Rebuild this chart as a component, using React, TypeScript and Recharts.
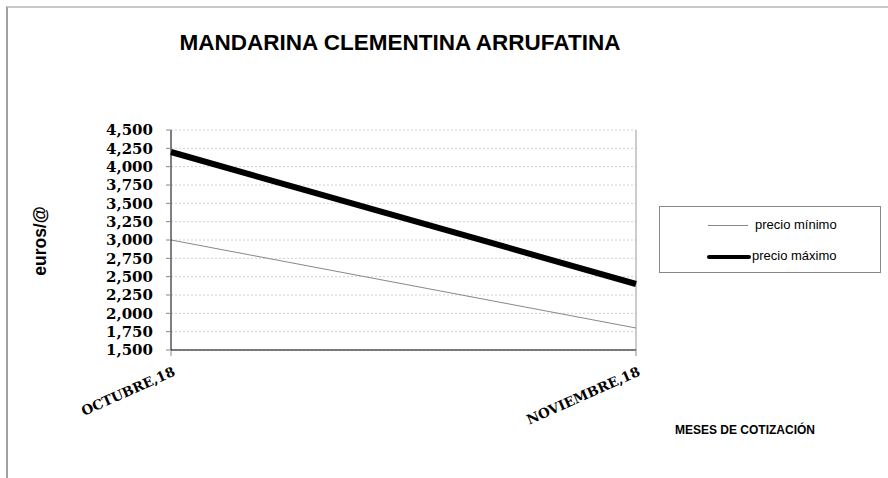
import React from "react";
import {
  LineChart,
  Line,
  XAxis,
  YAxis,
  CartesianGrid,
  Legend,
  ReferenceLine,
} from "recharts";

const months = ["OCTUBRE,18", "NOVIEMBRE,18"];
const precioMinimo = [3000, 1800];
const precioMaximo = [4200, 2400];
const yTicks = [1500, 1750, 2000, 2250, 2500, 2750, 3000, 3250, 3500, 3750, 4000, 4250, 4500];

const data = months.map((m, i) => ({
  name: m,
  min: precioMinimo[i],
  max: precioMaximo[i],
}));

const serif = "'DejaVu Serif', serif";
const sans = "'Liberation Sans', Arial, sans-serif";

const XTick = (props: any) => {
  const { x, y, payload } = props;
  return (
    <g transform={`translate(${x + 5},${y + 17})`}>
      <text
        textAnchor="end"
        transform="rotate(-24)"
        fontFamily={serif}
        fontWeight="bold"
        fontSize={13.5}
        fill="#000"
      >
        {payload.value}
      </text>
    </g>
  );
};

const LegendBox = () => (
  <div
    style={{
      width: 220,
      height: 65,
      border: "1px solid #888",
      background: "#fff",
      fontFamily: sans,
      fontSize: 13,
      position: "relative",
    }}
  >
    <div style={{ position: "absolute", left: 48, top: 18, width: 40, borderTop: "1px solid #888" }} />
    <span style={{ position: "absolute", left: 95, top: 10 }}>precio mínimo</span>
    <div style={{ position: "absolute", left: 47, top: 48, width: 44, height: 4, background: "#000", borderRadius: 2 }} />
    <span style={{ position: "absolute", left: 92, top: 41 }}>precio máximo</span>
  </div>
);

export default function App() {
  return (
    <div style={{ position: "absolute", top: 0, left: 0, width: 888, height: 478, background: "#fff" }}>
      <div
        style={{
          position: "absolute",
          left: 6,
          top: 6,
          width: 882,
          height: 472,
          borderTop: "2px solid #c8c8c8",
          borderLeft: "2px solid #a0a0a0",
        }}
      />
      <div
        style={{
          position: "absolute",
          left: 0,
          width: 800,
          top: 30,
          textAlign: "center",
          fontFamily: sans,
          fontWeight: "bold",
          fontSize: 22.5,
        }}
      >
        MANDARINA CLEMENTINA ARRUFATINA
      </div>
      <div
        style={{
          position: "absolute",
          left: 40,
          top: 241,
          transform: "translate(-50%, -50%) rotate(-90deg)",
          fontFamily: sans,
          fontWeight: "bold",
          fontSize: 17.5,
          whiteSpace: "nowrap",
        }}
      >
        euros/@
      </div>
      <div
        style={{
          position: "absolute",
          left: 675,
          top: 423,
          fontFamily: sans,
          fontWeight: "bold",
          fontSize: 12,
        }}
      >
        MESES DE COTIZACIÓN
      </div>
      <LineChart
        width={888}
        height={478}
        data={data}
        margin={{ top: 130, right: 252, left: 111, bottom: 68 }}
      >
        <CartesianGrid vertical={false} stroke="#d0d0d0" strokeDasharray="2 2" />
        <ReferenceLine x={months[1]} stroke="#999" />
        <XAxis
          dataKey="name"
          height={60}
          tick={<XTick />}
          tickLine={{ stroke: "#888" }}
          tickSize={6}
          axisLine={{ stroke: "#000" }}
          interval={0}
        />
        <YAxis
          width={60}
          domain={[1500, 4500]}
          ticks={yTicks}
          interval={0}
          tickFormatter={(v: number) => v.toLocaleString("en-US")}
          tick={{ fontFamily: serif, fontWeight: "bold", fontSize: 15, fill: "#000" }}
          tickLine={{ stroke: "#888" }}
          tickSize={5}
          tickMargin={13}
          axisLine={{ stroke: "#000" }}
        />
        <Legend
          layout="vertical"
          align="center"
          verticalAlign="middle"
          content={<LegendBox />}
          wrapperStyle={{ position: "absolute", left: 659, top: 206, width: 222 }}
        />
        <Line
          dataKey="min"
          name="precio mínimo"
          stroke="#888"
          strokeWidth={1}
          dot={false}
          isAnimationActive={false}
        />
        <Line
          dataKey="max"
          name="precio máximo"
          stroke="#000"
          strokeWidth={6}
          dot={false}
          isAnimationActive={false}
        />
      </LineChart>
    </div>
  );
}
